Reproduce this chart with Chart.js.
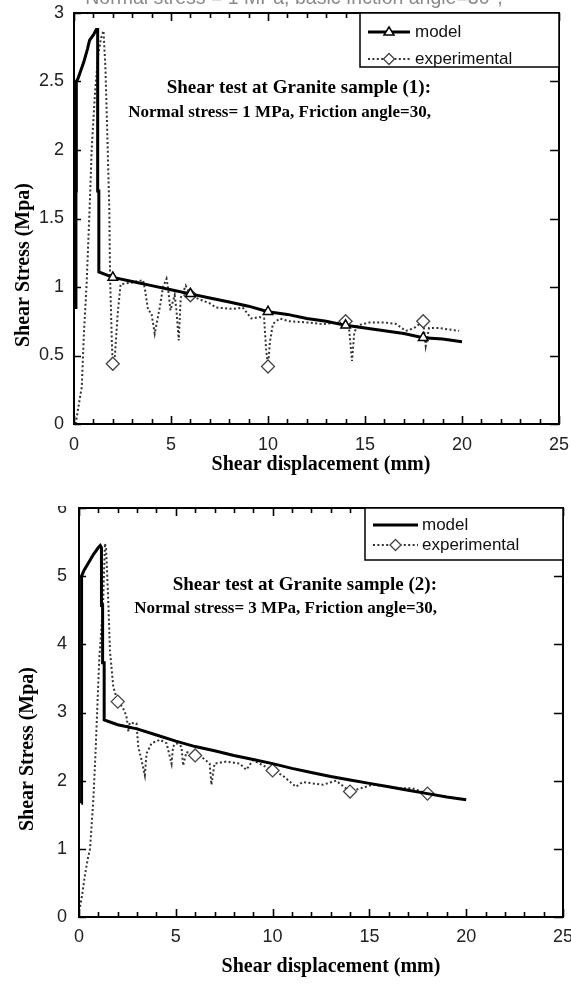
<!DOCTYPE html>
<html><head><meta charset="utf-8">
<script src="https://cdn.jsdelivr.net/npm/chart.js@4"></script>
<style>
html,body{margin:0;padding:0;background:#fff;}
body{width:571px;height:985px;position:relative;overflow:hidden;}
canvas{position:absolute;left:0;}
#c1{top:0;} #c2{top:496px;}
#cover{position:absolute;left:0;top:481px;width:571px;height:25px;background:#fff;}
</style></head><body>
<canvas id="c1" width="571" height="480"></canvas>
<canvas id="c2" width="571" height="489"></canvas>
<div id="cover"></div>
<script>
// ---------- Data: sample (1), normal stress 1 MPa ----------
const model1X = [0.1,0.1,0.12,0.12,0.2,0.5,0.7,0.8,1.0,1.15,1.22,1.22,1.28,1.28,2,3,4,5,6,7,8,9,10,11,12,13,14,15,16,17,18,19,20];
const model1Y = [0.84,1.7,1.7,2.5,2.52,2.64,2.74,2.8,2.84,2.88,2.88,1.7,1.7,1.11,1.07,1.04,1.01,0.98,0.95,0.92,0.89,0.86,0.82,0.80,0.77,0.75,0.72,0.70,0.68,0.66,0.63,0.62,0.60];
const exp1X = [0.1,0.14,0.4,0.51,0.65,0.82,0.91,1.08,1.25,1.4,1.52,1.62,1.72,1.82,1.86,1.95,2,2.1,2.25,2.4,2.88,3.56,3.65,3.82,3.99,4.16,4.42,4.59,4.77,4.85,4.97,5.11,5.19,5.28,5.4,5.5,5.76,6,6.3,7,7.33,8.19,8.7,9.14,9.56,9.8,9.9,10,10.1,10.25,10.6,11.1,12.13,12.82,13.68,14,14.19,14.33,14.45,14.62,15.22,16.08,16.6,17.1,17.53,18,18.13,18.3,18.82,19.33,19.85];
const exp1Y = [0,0.05,0.27,0.66,1.02,1.63,2.0,2.41,2.7,2.82,2.87,2.6,2.1,1.56,1.07,0.6,0.44,0.48,0.8,1.02,1.03,1.05,0.99,0.83,0.81,0.66,0.85,1.0,1.06,0.99,0.83,0.9,0.94,0.83,0.61,0.92,1.01,0.94,0.92,0.88,0.85,0.84,0.85,0.77,0.78,0.77,0.55,0.42,0.6,0.73,0.77,0.75,0.74,0.73,0.74,0.75,0.68,0.46,0.67,0.72,0.74,0.74,0.73,0.68,0.70,0.75,0.57,0.70,0.70,0.69,0.68];
const model1MarkerX = [2,6,10,14,18];
const exp1MarkerX = [2,6,10,14,18];

// ---------- Data: sample (2), normal stress 3 MPa ----------
const model2X = [0.12,0.12,0.14,0.14,0.25,0.5,0.75,1.0,1.1,1.16,1.16,1.22,1.22,1.3,1.3,2,3,4,5,6,7,8,9,10,11,12,13,14,15,16,17,18,19,20];
const model2Y = [1.67,3.36,3.36,5.0,5.08,5.2,5.32,5.42,5.45,5.42,4.57,4.57,3.73,3.73,2.89,2.82,2.76,2.67,2.58,2.5,2.44,2.37,2.31,2.25,2.18,2.12,2.06,2.01,1.96,1.91,1.86,1.81,1.76,1.72];
const exp2X = [0.05,0.15,0.3,0.45,0.57,0.74,0.86,0.96,1.05,1.15,1.25,1.34,1.4,1.51,1.6,1.77,2,2.25,2.45,2.55,2.62,2.97,3.06,3.23,3.4,3.49,3.75,4.18,4.52,4.78,4.86,5.03,5.29,5.38,5.55,6,6.24,6.75,6.84,7,7.6,8.3,8.64,8.99,10,10.5,11.2,11.56,12.6,13.28,14,15.17,16.5,17.2,18,18.3];
const exp2Y = [0.15,0.3,0.6,0.85,1.0,1.72,2.45,3.18,3.8,4.2,4.65,5.48,5.4,4.65,3.9,3.38,3.16,3.08,2.95,2.72,2.85,2.84,2.5,2.3,2.08,2.4,2.55,2.6,2.55,2.25,2.5,2.55,2.5,2.22,2.42,2.37,2.37,2.25,1.94,2.25,2.28,2.25,2.16,2.3,2.15,2.08,1.91,1.98,1.94,2.0,1.84,1.94,1.89,1.89,1.81,1.82];
const model2MarkerX = [];
const exp2MarkerX = [2,6,10,14,18];

// ---------- Axis settings ----------
const xTicks = {min: 0, max: 25, step: 5, minor: 1};
const y1Ticks = {min: 0, max: 3, step: 0.5};
const y2Ticks = {min: 0, max: 6, step: 1};

const xTitle = 'Shear displacement (mm)';
const yTitle = 'Shear Stress (Mpa)';
const seriesNames = ['model', 'experimental'];
const note1 = ['Shear test at Granite sample (1):', 'Normal stress= 1 MPa, Friction angle=30,'];
const note2 = ['Shear test at Granite sample (2):', 'Normal stress= 3 MPa, Friction angle=30,'];
const cutCaption = 'Normal stress = 1 MPa, basic friction angle=30°,';

const pts = (xs, ys) => xs.map((v, i) => ({x: v, y: ys[i]}));
const SANS = "'Liberation Sans', Arial, sans-serif";
const SERIF = "'Liberation Serif', 'Times New Roman', serif";

const framePlugin = {
  id: 'frame',
  afterDraw(chart, args, o) {
    const {ctx, chartArea: a} = chart;
    const x = chart.scales.x, y = chart.scales.y;
    ctx.save();
    ctx.strokeStyle = '#000';
    ctx.lineWidth = 2;
    ctx.strokeRect(a.left, a.top, a.right - a.left, a.bottom - a.top);
    ctx.lineWidth = 1.6;
    ctx.beginPath();
    for (let v = x.min; v <= x.max + 1e-9; v += o.xMinor) {
      const px = Math.round(x.getPixelForValue(v)) + 0.5;
      const len = Math.abs(v % o.xMajor) < 1e-9 ? 8 : 5;
      ctx.moveTo(px, a.bottom); ctx.lineTo(px, a.bottom - len);
      ctx.moveTo(px, a.top); ctx.lineTo(px, a.top + len);
    }
    for (let v = y.min; v <= y.max + 1e-9; v += o.yStep) {
      const py = Math.round(y.getPixelForValue(v)) + 0.5;
      ctx.moveTo(a.left, py); ctx.lineTo(a.left + 7, py);
      ctx.moveTo(a.right, py); ctx.lineTo(a.right - 9, py);
    }
    ctx.stroke();

    // legend box
    const L = o.legend;
    const bx = a.right - L.w, by = a.top;
    ctx.fillStyle = '#fff';
    ctx.fillRect(bx, by, L.w, L.h);
    ctx.lineWidth = 1.5;
    ctx.strokeStyle = '#000';
    ctx.strokeRect(bx, by, L.w, L.h);
    chart.data.datasets.forEach((ds, i) => {
      const ry = by + L.rows[i];
      ctx.save();
      ctx.strokeStyle = ds.borderColor;
      ctx.lineWidth = ds.borderWidth;
      ctx.setLineDash(ds.borderDash || []);
      ctx.beginPath();
      ctx.moveTo(bx + L.x0, ry); ctx.lineTo(bx + L.x1, ry);
      ctx.stroke();
      ctx.restore();
      if (L.markers[i]) {
        ctx.save();
        ctx.fillStyle = '#fff'; ctx.strokeStyle = ds.pointBorderColor; ctx.lineWidth = ds.pointBorderWidth;
        ctx.beginPath();
        const cx = bx + (L.x0 + L.x1) / 2, r = L.markerR[i];
        if (ds.pointStyle === 'triangle') {
          ctx.moveTo(cx - r, ry + r * 0.6); ctx.lineTo(cx + r, ry + r * 0.6); ctx.lineTo(cx, ry - r); ctx.closePath();
        } else {
          ctx.moveTo(cx - r, ry); ctx.lineTo(cx, ry - r); ctx.lineTo(cx + r, ry); ctx.lineTo(cx, ry + r); ctx.closePath();
        }
        ctx.fill(); ctx.stroke();
        ctx.restore();
      }
      ctx.fillStyle = '#111';
      ctx.font = '17px ' + SANS;
      ctx.textAlign = 'left';
      ctx.textBaseline = 'middle';
      ctx.fillText(ds.label, bx + L.tx, ry);
    });

    // annotation
    ctx.fillStyle = '#000';
    ctx.textAlign = 'right';
    ctx.textBaseline = 'middle';
    o.note.lines.forEach((t, i) => {
      ctx.font = 'bold ' + o.note.sizes[i] + 'px ' + SERIF;
      ctx.fillText(t, o.note.right, o.note.ys[i]);
    });

    // axis titles
    ctx.font = 'bold 20px ' + SERIF;
    ctx.textAlign = 'center';
    ctx.fillText(xTitle, o.xt[0], o.xt[1]);
    ctx.save();
    ctx.translate(o.yt[0], o.yt[1]);
    ctx.rotate(-Math.PI / 2);
    ctx.fillText(yTitle, 0, 0);
    ctx.restore();

    if (o.caption) {
      ctx.fillStyle = '#8a8a8a';
      ctx.font = '19.5px ' + SANS;
      ctx.textAlign = 'center';
      ctx.textBaseline = 'alphabetic';
      ctx.fillText(o.caption, 294, 4);
    }
    ctx.restore();
  }
};

const fmt = v => String(Math.round(v * 100) / 100);

function makeChart(id, cfg) {
  const mk = cfg.modelMarkers, ek = cfg.expMarkers;
  return new Chart(document.getElementById(id), {
    type: 'line',
    data: {
      datasets: [
        {
          label: seriesNames[0], data: pts(cfg.mx, cfg.my),
          borderColor: '#000', borderWidth: 3, order: 0,
          pointStyle: 'triangle', pointBackgroundColor: '#fff', pointBorderColor: '#000', pointBorderWidth: 1.5,
          pointRadius: c => (c.raw && mk.includes(c.raw.x)) ? 5.5 : 0,
          tension: 0, borderJoinStyle: 'miter'
        },
        {
          label: seriesNames[1], data: pts(cfg.ex, cfg.ey),
          borderColor: '#333', borderWidth: 2, borderDash: [2, 2.4], order: 1,
          pointStyle: 'rectRot', pointBackgroundColor: '#fff', pointBorderColor: '#444', pointBorderWidth: 1.3,
          pointRadius: c => (c.raw && ek.includes(c.raw.x)) ? 6.5 : 0,
          tension: 0
        }
      ]
    },
    options: {
      responsive: false, animation: false, events: [],
      devicePixelRatio: 1,
      layout: {padding: cfg.pad},
      clip: false,
      plugins: {
        legend: {display: false}, tooltip: {enabled: false},
        frame: cfg.frame
      },
      scales: {
        x: {
          type: 'linear', min: xTicks.min, max: xTicks.max,
          grid: {display: false, drawTicks: false}, border: {display: false},
          ticks: {stepSize: xTicks.step, padding: cfg.xPad, color: '#222', font: {family: SANS, size: 18}, maxRotation: 0, callback: fmt},
          afterFit: s => { s.height = cfg.xH; s.paddingLeft = 0; s.paddingRight = 0; }
        },
        y: {
          type: 'linear', min: cfg.yT.min, max: cfg.yT.max,
          grid: {display: false, drawTicks: false}, border: {display: false},
          ticks: {stepSize: cfg.yT.step, padding: cfg.yPad, color: '#222', font: {family: SANS, size: 18}, callback: fmt},
          afterFit: s => { s.width = cfg.yW; s.paddingTop = 0; s.paddingBottom = 0; }
        }
      }
    },
    plugins: [framePlugin]
  });
}

makeChart('c1', {
  mx: model1X, my: model1Y, ex: exp1X, ey: exp1Y,
  modelMarkers: model1MarkerX, expMarkers: exp1MarkerX,
  yT: y1Ticks, pad: {top: 13, right: 12, left: 0, bottom: 0},
  xH: 56, yW: 74, xPad: 10, yPad: 10,
  frame: {
    xMinor: xTicks.minor, xMajor: xTicks.step, yStep: y1Ticks.step,
    legend: {w: 199, h: 54, rows: [19, 46], x0: 8, x1: 50, tx: 55, markers: [true, true], markerR: [5, 5.5]},
    note: {lines: note1, right: 431, ys: [88, 113], sizes: [19, 17]},
    xt: [321, 465], yt: [24, 265], caption: cutCaption
  }
});

makeChart('c2', {
  mx: model2X, my: model2Y, ex: exp2X, ey: exp2Y,
  modelMarkers: model2MarkerX, expMarkers: exp2MarkerX,
  yT: y2Ticks, pad: {top: 12, right: 8, left: 0, bottom: 0},
  xH: 68, yW: 79, xPad: 9, yPad: 12,
  frame: {
    xMinor: xTicks.minor, xMajor: xTicks.step, yStep: y2Ticks.step,
    legend: {w: 198, h: 52, rows: [17, 37], x0: 8, x1: 53, tx: 57, markers: [false, true], markerR: [0, 5.5]},
    note: {lines: note2, right: 437, ys: [89, 113], sizes: [19, 17]},
    xt: [331, 471], yt: [28, 253], caption: null
  }
});
</script>
</body></html>
